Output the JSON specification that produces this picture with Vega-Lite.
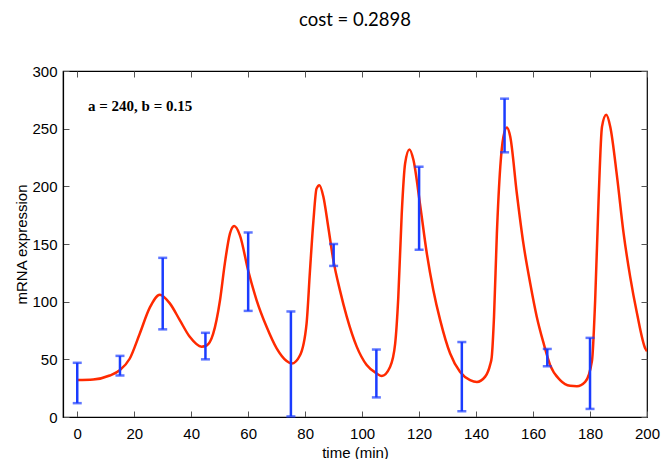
{
  "$schema": "https://vega.github.io/schema/vega-lite/v6.json",
  "width": 584,
  "height": 346,
  "autosize": "none",
  "padding": {"left": 63, "top": 71, "right": 14, "bottom": 42},
  "background": "white",
  "title": {"text": "cost = 0.2898", "font": "Lato", "fontSize": 18.5, "fontWeight": "normal", "color": "#000", "offset": 35},
  "config": {
    "view": {"stroke": "#000", "strokeWidth": 1.2},
    "axis": {"grid": false, "labelFlush": false, "domainColor": "#000", "domainWidth": 1.2, "tickColor": "#555", "tickWidth": 1, "tickSize": -6, "labelColor": "#000", "titleColor": "#000", "labelFont": "Liberation Sans", "titleFont": "Liberation Sans", "labelFontSize": 15, "titleFontSize": 15, "titleFontWeight": "normal"}
  },
  "datasets": {
    "curve": [
      {"t": 0, "y": 32}, {"t": 5.6, "y": 32.5}, {"t": 11.4, "y": 36}, {"t": 14.9, "y": 40.5}, {"t": 18.4, "y": 50.5},
      {"t": 21.9, "y": 72}, {"t": 25.5, "y": 95}, {"t": 29, "y": 106}, {"t": 32.5, "y": 98.5}, {"t": 36, "y": 84},
      {"t": 39.5, "y": 69.5}, {"t": 43.6, "y": 61}, {"t": 45.4, "y": 62}, {"t": 47.7, "y": 72}, {"t": 50.1, "y": 101},
      {"t": 51.8, "y": 133}, {"t": 53.6, "y": 159}, {"t": 55.1, "y": 165.5}, {"t": 57.1, "y": 157.5}, {"t": 60, "y": 127},
      {"t": 63, "y": 101}, {"t": 66.5, "y": 78}, {"t": 70, "y": 59.5}, {"t": 73.5, "y": 48.5}, {"t": 75.3, "y": 46.3},
      {"t": 78.2, "y": 53.5}, {"t": 80.5, "y": 81}, {"t": 81.7, "y": 127}, {"t": 82.9, "y": 170}, {"t": 84, "y": 198},
      {"t": 85, "y": 201}, {"t": 86.4, "y": 191}, {"t": 88.1, "y": 165}, {"t": 89.9, "y": 136}, {"t": 92.2, "y": 110},
      {"t": 94.6, "y": 87}, {"t": 98.1, "y": 61}, {"t": 101.6, "y": 45}, {"t": 105.1, "y": 37.7}, {"t": 106.9, "y": 35.6},
      {"t": 109.8, "y": 43.4}, {"t": 111.6, "y": 63.7}, {"t": 112.7, "y": 104}, {"t": 113.9, "y": 176}, {"t": 115.1, "y": 220},
      {"t": 116.6, "y": 232}, {"t": 118, "y": 223}, {"t": 120.3, "y": 185}, {"t": 122.7, "y": 142}, {"t": 125, "y": 110},
      {"t": 127.4, "y": 84}, {"t": 130.9, "y": 55}, {"t": 134.4, "y": 39}, {"t": 137.9, "y": 32}, {"t": 140.3, "y": 30.4},
      {"t": 143.2, "y": 35}, {"t": 144.9, "y": 45}, {"t": 145.5, "y": 52}, {"t": 146.3, "y": 87}, {"t": 147.3, "y": 159},
      {"t": 148.5, "y": 217}, {"t": 149.6, "y": 243}, {"t": 150.8, "y": 251}, {"t": 152, "y": 243}, {"t": 154.3, "y": 194},
      {"t": 156.6, "y": 150.5}, {"t": 159, "y": 116}, {"t": 161.3, "y": 87}, {"t": 163.7, "y": 64}, {"t": 166, "y": 45},
      {"t": 169.5, "y": 32}, {"t": 173, "y": 27}, {"t": 175.4, "y": 26.6}, {"t": 178.3, "y": 30.4}, {"t": 180.7, "y": 49},
      {"t": 181.8, "y": 101}, {"t": 183, "y": 188}, {"t": 184.2, "y": 251.7}, {"t": 185.7, "y": 262}, {"t": 187.1, "y": 251.7},
      {"t": 189.5, "y": 208}, {"t": 191.8, "y": 159}, {"t": 194.1, "y": 121.5}, {"t": 196.5, "y": 89.7}, {"t": 199.4, "y": 59.4},
      {"t": 200, "y": 57}
    ],
    "errors": [
      {"t": 0, "lo": 12, "hi": 47}, {"t": 15, "lo": 36, "hi": 53}, {"t": 30, "lo": 76, "hi": 138},
      {"t": 45, "lo": 50, "hi": 73}, {"t": 60, "lo": 92, "hi": 160}, {"t": 75, "lo": 0.5, "hi": 91.5},
      {"t": 90, "lo": 131, "hi": 150}, {"t": 105, "lo": 17, "hi": 58.5}, {"t": 120, "lo": 145, "hi": 217},
      {"t": 135, "lo": 5, "hi": 65}, {"t": 150, "lo": 229.5, "hi": 276}, {"t": 165, "lo": 44, "hi": 59},
      {"t": 180, "lo": 7, "hi": 68.6}
    ],
    "note": [{"label": "a = 240, b = 0.15"}]
  },
  "layer": [
    {
      "data": {"name": "curve"},
      "mark": {"type": "line", "color": "#ff2a00", "strokeWidth": 2.5, "interpolate": "monotone", "clip": true},
      "encoding": {
        "x": {"field": "t", "type": "quantitative", "scale": {"domain": [-5, 200], "nice": false, "zero": false},
              "axis": {"orient": "bottom", "values": [0, 20, 40, 60, 80, 100, 120, 140, 160, 180, 200], "title": "time (min)", "labelPadding": 15, "titlePadding": 4}},
        "y": {"field": "y", "type": "quantitative", "scale": {"domain": [0, 300], "nice": false},
              "axis": {"orient": "left", "values": [0, 50, 100, 150, 200, 250, 300], "title": "mRNA expression", "labelPadding": 12, "titlePadding": 2}}
      }
    },
    {
      "data": {"name": "errors"},
      "mark": {"type": "rule", "color": "#1a3cff", "strokeWidth": 2.5},
      "encoding": {
        "x": {"field": "t", "type": "quantitative", "axis": {"orient": "top", "values": [0, 20, 40, 60, 80, 100, 120, 140, 160, 180, 200], "labels": false, "title": null, "domain": false}},
        "y": {"field": "lo", "type": "quantitative", "axis": {"orient": "right", "values": [0, 50, 100, 150, 200, 250, 300], "labels": false, "title": null, "domain": false}},
        "y2": {"field": "hi"}
      }
    },
    {
      "data": {"name": "errors"},
      "mark": {"type": "tick", "orient": "horizontal", "color": "#1a3cff", "size": 9, "thickness": 2.5},
      "encoding": {
        "x": {"field": "t", "type": "quantitative", "axis": null},
        "y": {"field": "lo", "type": "quantitative", "axis": null}
      }
    },
    {
      "data": {"name": "errors"},
      "mark": {"type": "tick", "orient": "horizontal", "color": "#1a3cff", "size": 9, "thickness": 2.5},
      "encoding": {
        "x": {"field": "t", "type": "quantitative", "axis": null},
        "y": {"field": "hi", "type": "quantitative", "axis": null}
      }
    },
    {
      "data": {"name": "note"},
      "mark": {"type": "text", "font": "Liberation Serif", "fontWeight": "bold", "fontSize": 15, "align": "left", "baseline": "alphabetic", "color": "#000"},
      "encoding": {
        "x": {"datum": 3.8, "type": "quantitative", "axis": null},
        "y": {"datum": 265, "type": "quantitative", "axis": null},
        "text": {"field": "label"}
      }
    }
  ],
  "resolve": {"axis": {"x": "independent", "y": "independent"}}
}
